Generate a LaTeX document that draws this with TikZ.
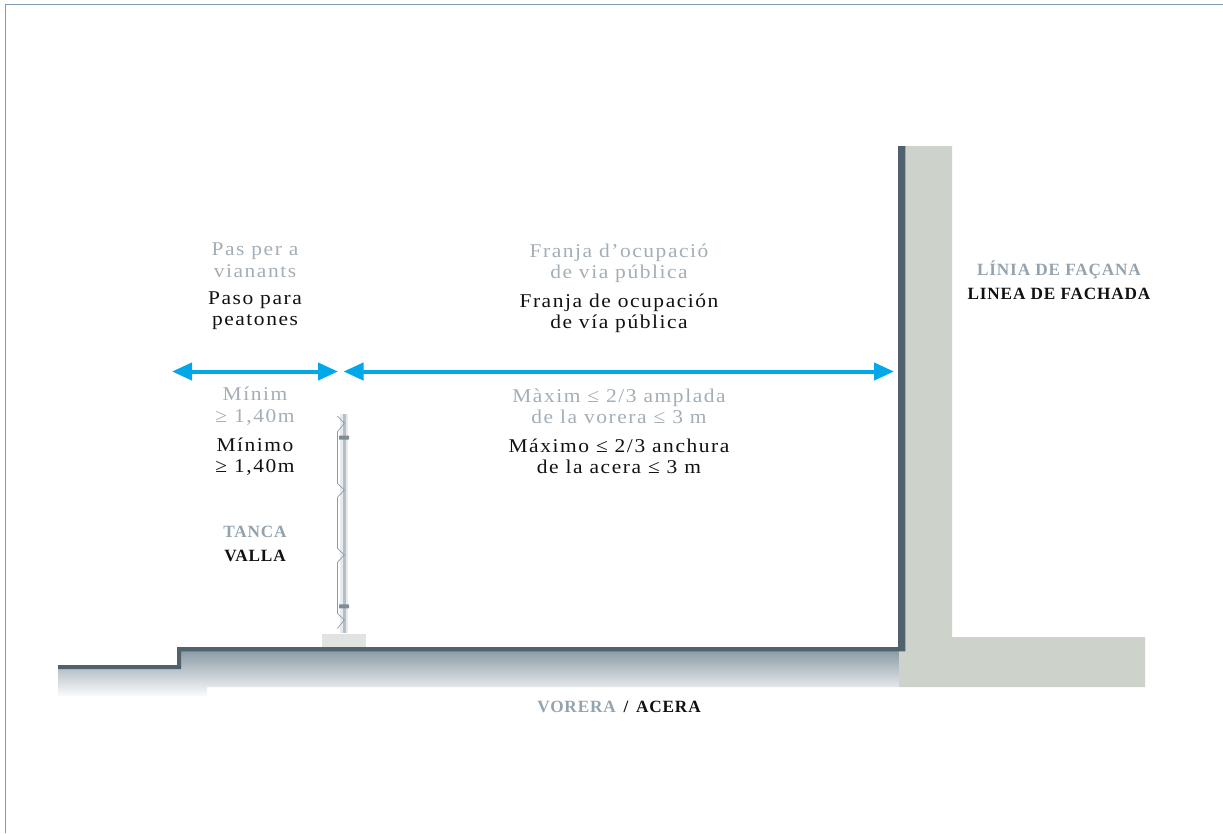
\documentclass[tikz,border=0pt]{standalone}
\usepackage{fontspec}
\setmainfont{Liberation Serif}
\newfontfamily\spaced[LetterSpace=8,FakeStretch=1.1]{Liberation Serif}
\newfontfamily\spacedb[LetterSpace=5,BoldFont={Liberation Serif Bold}]{Liberation Serif}
\usetikzlibrary{arrows.meta}
\definecolor{slate}{HTML}{4F626D}
\definecolor{wallc}{HTML}{CDD3CA}
\definecolor{greyt}{HTML}{A3AEB6}
\definecolor{greyb}{HTML}{94A3AE}
\definecolor{blk}{HTML}{111111}
\definecolor{cyanar}{HTML}{00A8EA}
\definecolor{frame}{HTML}{7F9BB4}
\definecolor{gtop}{HTML}{8C9CA7}
\definecolor{postc}{HTML}{B3BEC6}
\definecolor{basec}{HTML}{E0E3DF}
\tikzset{
  x=1pt,y=-1pt,
  lab/.style={font=\fontsize{19.5}{21.5}\selectfont\spaced,align=center,inner sep=0pt},
  gl/.style={lab,text=greyt},
  bl/.style={lab,text=blk},
  gb/.style={font=\fontsize{17.2}{18}\selectfont\spacedb\bfseries,text=greyb,inner sep=0pt},
  kb/.style={font=\fontsize{17.2}{18}\selectfont\spacedb\bfseries,text=blk,inner sep=0pt},
  dim/.style={draw=cyanar,line width=4pt,{Triangle[length=20pt,width=17pt]}-{Triangle[length=20pt,width=17pt]}},
  zig/.style={draw=gtop,line width=0.7pt,line join=round},
  clamp/.style={fill=gtop!90!black,rounded corners=0.5pt}
}
\begin{document}
\begin{tikzpicture}
\useasboundingbox (0,0) rectangle (1223,833);
% frame
\draw[frame,line width=1.4pt] (5.5,833) -- (5.5,4.5) -- (1223,4.5);
% ground gradient
\begin{scope}
\clip (58,669) -- (178,669) -- (178,651) -- (899,651) -- (899,687) -- (207,687) -- (207,696) -- (58,696) -- cycle;
\shade[top color=gtop,bottom color=white!96!gtop] (58,651) rectangle (899,696);
\end{scope}
% wall
\fill[wallc] (905,146) -- (952,146) -- (952,637) -- (1145,637) -- (1145,687) -- (899,687) -- (899,651) -- (905,651) -- cycle;
% ground line and facade
\fill[slate] (58,665.2) -- (177,665.2) -- (177,647) -- (898,647) -- (898,146) -- (905.3,146) -- (905.3,651.3) -- (181,651.3) -- (181,669.2) -- (58,669.2) -- cycle;
% fence
\fill[basec] (321.5,633.5) rectangle (365.5,647);
\fill[white!80!gtop] (340,414) rectangle (347.5,633);
\fill[postc] (342.5,414) rectangle (346,633);
\draw[zig] (337.5,416) -- (344.3,423.3) -- (337.5,431.7) -- (337.5,483.3) -- (344.3,490) -- (337.5,497.3) -- (337.5,548.3) -- (344.3,555) -- (337.5,562.3) -- (337.5,613.3) -- (344.3,620) -- (337.5,628.3);
\fill[clamp] (339,435.7) rectangle (349,439.7);
\fill[clamp] (339,604.3) rectangle (349,608.3);
% arrows
\coordinate (a1) at (172,371.5);
\coordinate (a2) at (338,371.5);
\coordinate (b1) at (343.5,371.5);
\coordinate (b2) at (894,371.5);
\draw[dim] (a1) -- (a2);
\draw[dim] (b1) -- (b2);
% labels
\node[gl] (t1) at (255,260) {Pas per a\\vianants};
\node[bl] (t2) at (255,310.5) {Paso para\\peatones};
\node[gl] (t3) at (255,406) {Mínim\\≥ 1,40m};
\node[bl] (t4) at (255,456.5) {Mínimo\\≥ 1,40m};
\node[gb] (t5) at (255,532) {TANCA};
\node[kb] (t6) at (255,556) {VALLA};
\node[gl] (t7) at (619,263.5) {Franja d’ocupació\\de via pública};
\node[bl] (t8) at (619,313.5) {Franja de ocupación\\de vía pública};
\node[gl] (t9) at (619,406.5) {Màxim ≤ 2/3 amplada\\de la vorera ≤ 3 m};
\node[bl] (t10) at (619,456.5) {Máximo ≤ 2/3 anchura\\de la acera ≤ 3 m};
\node[gb] (t11) at (1059,270) {LÍNIA DE FAÇANA};
\node[kb] (t12) at (1059,294) {LINEA DE FACHADA};
\node[inner sep=0pt,font=\fontsize{17.2}{18}\selectfont\spacedb\bfseries] (t13) at (619,707) {\textcolor{greyb}{VORERA}\hspace{0.45em}\textcolor{blk}{/\hspace{0.45em}ACERA}};
\end{tikzpicture}
\end{document}
